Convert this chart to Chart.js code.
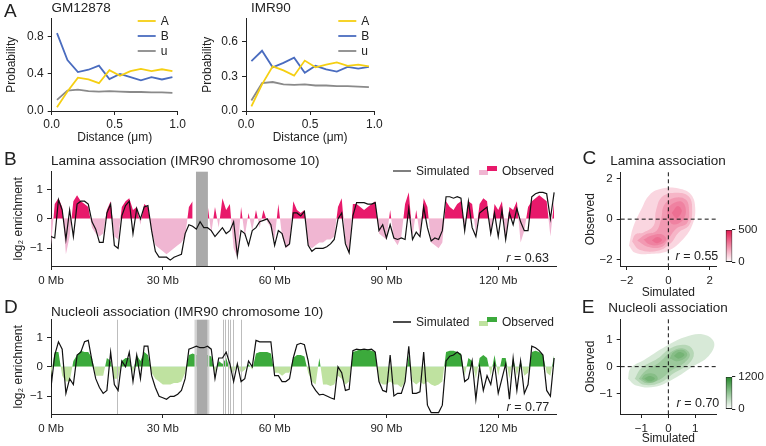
<!DOCTYPE html>
<html>
<head>
<meta charset="utf-8">
<script src="https://cdn.jsdelivr.net/npm/chart.js@4.4.1/dist/chart.umd.min.js"></script>
<style>
body { margin: 0; background: #fff; }
#fig { position: relative; width: 766px; height: 446px; overflow: hidden; font-family: "Liberation Sans", Arial, sans-serif; color: #222; }
#fig canvas { position: absolute; }
.t { position: absolute; line-height: 1; white-space: nowrap; }
.mid { transform: translateX(-50%); }
</style>
</head>
<body>
<div id="fig">
  <canvas id="gm" style="left:0;top:0" width="190" height="145"></canvas>
  <canvas id="imr" style="left:195px;top:0" width="190" height="145"></canvas>
  <canvas id="lamTrack" style="left:0;top:145px" width="566" height="150"></canvas>
  <canvas id="nucTrack" style="left:0;top:293px" width="566" height="150"></canvas>
  <canvas id="lamKde" style="left:575px;top:150px" width="150" height="150"></canvas>
  <canvas id="nucKde" style="left:575px;top:298px" width="150" height="148"></canvas>
  <canvas id="lamBar" style="left:718px;top:220px" width="48" height="52"></canvas>
  <canvas id="nucBar" style="left:718px;top:367px" width="48" height="52"></canvas>

  <div class="t" style="left:4px;top:0.5px;font-size:19px">A</div>
  <div class="t" style="left:51.5px;top:0.5px;font-size:13.5px">GM12878</div>
  <div class="t" style="left:251px;top:0.5px;font-size:13.5px">IMR90</div>
  <div class="t" style="left:4px;top:149.2px;font-size:19px">B</div>
  <div class="t" style="left:51px;top:153.7px;font-size:13.5px">Lamina association (IMR90 chromosome 10)</div>
  <div class="t" style="right:217px;top:252px;font-size:12.5px"><i>r</i> = 0.63</div>
  <div class="t" style="left:582.5px;top:148.3px;font-size:19px">C</div>
  <div class="t mid" style="left:668px;top:153.7px;font-size:13.5px">Lamina association</div>
  <div class="t" style="right:47.7px;top:250px;font-size:12.5px"><i>r</i> = 0.55</div>
  <div class="t" style="left:4px;top:297.3px;font-size:19px">D</div>
  <div class="t" style="left:51px;top:304.6px;font-size:13.5px">Nucleoli association (IMR90 chromosome 10)</div>
  <div class="t" style="right:216.7px;top:400.7px;font-size:12.5px"><i>r</i> = 0.77</div>
  <div class="t" style="left:581.7px;top:296.5px;font-size:19px">E</div>
  <div class="t mid" style="left:668px;top:301.2px;font-size:13.5px">Nucleoli association</div>
  <div class="t" style="right:46.7px;top:397.4px;font-size:12.5px"><i>r</i> = 0.70</div>
</div>
<script>
// ---- panel A: contact probability vs distance ----
const distanceUm = [0.042, 0.125, 0.208, 0.292, 0.375, 0.458, 0.542, 0.625, 0.708, 0.792, 0.875, 0.958];
const gmA = [0.04, 0.21, 0.36, 0.34, 0.30, 0.44, 0.38, 0.43, 0.455, 0.43, 0.45, 0.43];
const gmB = [0.84, 0.55, 0.42, 0.445, 0.49, 0.345, 0.40, 0.366, 0.33, 0.366, 0.34, 0.366];
const gmU = [0.12, 0.22, 0.23, 0.215, 0.21, 0.215, 0.21, 0.205, 0.205, 0.20, 0.20, 0.195];
const imrA = [0.04, 0.23, 0.385, 0.35, 0.305, 0.435, 0.377, 0.40, 0.42, 0.39, 0.40, 0.385];
const imrB = [0.43, 0.52, 0.377, 0.415, 0.46, 0.33, 0.39, 0.36, 0.34, 0.38, 0.365, 0.38];
const imrU = [0.09, 0.24, 0.25, 0.23, 0.226, 0.23, 0.22, 0.22, 0.215, 0.215, 0.21, 0.206];
const distTicks = [0, 0.5, 1];
const distTickLabels = ['0.0', '0.5', '1.0'];
const gmProbTicks = [0, 0.4, 0.8];
const gmProbTickLabels = ['0.0', '0.4', '0.8'];
const imrProbTicks = [0, 0.3, 0.6];
const imrProbTickLabels = ['0.0', '0.3', '0.6'];

// ---- panels B, D: chromosome 10 tracks, 1 Mb bins ----
const binMb = [0,1,2,3,4,5,6,7,8,9,10,11,12,13,14,15,16,17,18,19,20,21,22,23,24,25,26,27,28,29,
  30,31,32,33,34,35,36,37,38,39,40,41,42,43,44,45,46,47,48,49,50,51,52,53,54,55,56,57,58,59,
  60,61,62,63,64,65,66,67,68,69,70,71,72,73,74,75,76,77,78,79,80,81,82,83,84,85,86,87,88,89,
  90,91,92,93,94,95,96,97,98,99,100,101,102,103,104,105,106,107,108,109,110,111,112,113,114,115,116,117,118,119,
  120,121,122,123,124,125,126,127,128,129,130,131,132,133,134,135];
const laminaSim = [-0.6,-0.65,0.65,0.3,-0.7,0.3,-0.6,0.5,0.6,0.6,
  0.5,-0.1,-0.35,-0.8,-0.8,0.2,0.5,-0.9,-1.0,0.1,
  0.45,0.6,-0.5,0.35,0.0,0.4,0.45,-0.4,-1.1,-1.3,
  -1.3,-1.3,-1.4,-1.3,-1.25,-1.2,-0.5,-0.2,-0.25,-0.35,
  -0.1,-0.3,-0.3,-0.4,-0.6,-0.45,-0.3,-0.5,-0.4,-0.1,
  -1.25,-0.4,-0.5,-0.9,-0.4,-0.3,-0.1,-0.05,0.0,-0.2,
  -0.9,-0.4,-0.5,-0.95,-0.85,0.2,0.2,0.1,0.25,-0.9,
  -1.1,-1.0,-1.0,-1.0,-0.95,-0.85,-0.7,0.0,0.2,-0.85,
  -1.15,0.1,0.55,0.55,0.55,0.5,0.5,0.55,-0.4,-0.2,
  -0.65,-0.2,-0.65,-0.7,-0.65,-0.7,0.35,-0.7,-0.45,-0.6,
  0.4,-0.3,-0.75,-0.65,-0.7,-0.4,0.75,0.75,0.7,0.75,
  0.7,-0.4,0.6,-0.3,-0.6,0.2,0.3,0.4,-0.5,0.2,
  -0.6,0.3,-0.7,0.2,-0.2,0.35,-0.1,-0.4,-0.4,0.75,
  0.85,0.9,0.9,0.85,0.0,0.9];
const laminaObs = [-0.9,0.5,0.7,0.4,-1.2,-0.6,0.6,0.8,0.6,0.5,
  0.4,-0.3,-0.5,-0.6,-0.5,0.3,0.6,-0.6,-0.7,0.4,
  0.6,0.7,0.3,0.4,-0.2,0.5,0.4,-0.4,-0.9,-1.0,
  -1.1,-1.2,-1.1,-1.0,-0.9,-0.8,-0.6,0.4,0.6,null,
  null,null,0.5,-0.5,0.4,-0.3,0.7,0.3,0.5,-1.0,
  -1.3,0.4,-0.6,0.2,-0.4,0.3,-0.3,0.3,-0.1,-0.3,
  -0.7,0.5,-0.6,-1.0,-0.9,0.6,0.3,0.2,0.3,-0.9,
  -1.0,-0.9,-0.8,-0.8,-0.7,-0.7,-0.6,0.4,0.7,-0.8,
  -1.2,0.5,0.5,0.4,0.3,0.4,0.5,0.6,-0.5,-0.6,
  -0.7,0.3,-0.7,-0.9,-0.6,0.5,0.9,-0.6,0.3,-0.6,
  0.7,0.4,-0.8,-0.9,-1.0,-0.8,0.6,0.4,0.3,0.5,
  0.6,-0.3,0.6,0.5,-0.5,0.5,0.7,0.6,-0.6,0.5,
  0.3,0.6,-0.7,0.4,0.3,0.6,-0.8,-0.4,0.4,0.6,
  0.7,0.8,0.7,0.6,-0.6,0.6];
const nucleoliSim = [-0.7,0.4,0.85,0.6,-0.9,-0.4,-0.6,0.4,0.5,0.85,
  0.9,0.2,-0.4,-0.7,-0.9,-0.8,0.5,-0.6,-0.8,0.2,
  0.0,0.5,-0.5,0.4,-0.4,0.7,0.7,-0.3,-0.7,-1.0,
  -1.05,-1.1,-1.0,-1.0,-0.93,-0.8,-0.4,0.6,0.65,0.7,
  0.65,0.65,0.7,0.6,-0.4,0.3,0.3,0.5,0.1,-0.5,
  0.1,-0.5,-0.4,0.2,0.0,0.9,0.85,0.85,0.85,0.85,
  -0.3,-0.3,-0.5,-0.5,-0.4,0.3,0.75,0.8,0.75,0.2,
  -0.6,-0.8,-0.95,-0.93,-0.99,-1.05,-1.1,0.0,-0.2,-0.8,
  -0.76,0.55,0.6,0.58,0.6,0.58,0.6,0.5,-0.5,-0.8,
  -0.85,0.4,-0.99,-0.9,-0.9,-0.5,0.7,-0.9,-0.9,-0.85,
  0.5,-1.3,-1.55,-1.55,-1.55,-1.3,0.2,0.36,0.4,0.5,
  0.4,-0.5,-0.4,0.2,-1.1,0.0,-0.8,-0.3,-0.6,0.1,
  -0.9,-0.4,0.1,-1.1,0.3,-0.8,0.2,-0.9,-0.6,0.7,
  0.65,0.55,0.4,-0.8,-1.0,0.3];
const nucleoliObs = [-0.3,0.5,0.5,-0.3,-0.5,-0.5,0.2,0.4,0.55,0.5,
  0.5,0.3,-0.3,-0.3,-0.3,0.3,0.2,-0.4,-0.4,0.2,
  0.3,0.3,-0.2,0.4,0.2,0.5,0.4,-0.2,-0.4,-0.5,
  -0.6,-0.6,-0.6,-0.55,-0.55,-0.5,-0.2,0.4,0.45,0.4,
  0.4,0.4,0.4,0.35,-0.2,0.2,0.1,0.3,-0.1,-0.2,
  0.1,-0.2,-0.1,0.1,-0.1,0.45,0.5,0.5,0.5,0.45,
  -0.2,-0.2,-0.3,-0.2,-0.2,0.3,0.4,0.4,0.35,-0.2,
  -0.5,-0.6,0.3,-0.6,-0.6,-0.65,-0.6,-0.3,-0.4,-0.6,
  -0.5,0.5,0.55,0.6,0.6,0.6,0.55,0.5,-0.5,-0.6,
  -0.6,-0.5,-0.6,-0.6,-0.7,-0.5,0.4,-0.5,-0.6,-0.5,
  -0.6,-0.5,-0.6,-0.65,-0.6,-0.5,0.5,0.55,0.55,0.5,
  0.45,-0.3,0.3,0.2,-0.4,0.3,0.4,0.3,-0.3,0.4,
  -0.3,0.3,0.3,-0.4,0.3,-0.3,0.2,-0.3,-0.2,0.5,
  0.55,0.5,0.4,-0.2,-0.3,0.4];
const laminaGaps = [[38.9, 42.1]];
const nucleoliGaps = [[39.1, 42.0]];
const nucleoliSoftGaps = [[38.5, 39.1], [42.0, 42.5]];
const nucleoliGapLines = [17.8, 46.1, 46.8, 47.4, 48.1, 48.8, 51.0];
const chromTicks = [0, 30, 60, 90, 120];
const chromTickLabels = ['0 Mb', '30 Mb', '60 Mb', '90 Mb', '120 Mb'];
const enrichTicks = [-1, 0, 1];
const enrichTickLabels = ['\u22121', '0', '1'];

// ---- panels C, E: density contours (simulated vs observed) ----
const laminaLevels = [
  [[-1.9,-1.3],[-1.6,-1.65],[-0.8,-1.7],[0.0,-1.55],[0.7,-1.0],[1.15,-0.3],[1.3,0.5],[1.1,1.2],[0.5,1.5],[-0.3,1.5],[-0.9,1.2],[-1.3,0.5],[-1.7,-0.4]],
  [[-1.75,-1.1],[-1.4,-1.5],[-0.5,-1.55],[0.1,-1.2],[0.5,-0.65],[1.0,-0.3],[1.15,0.4],[1.0,1.1],[0.4,1.3],[-0.3,1.1],[-0.6,0.4],[-0.7,-0.3],[-1.2,-0.65],[-1.6,-0.75]],
  [[-1.5,-1.05],[-1.0,-1.35],[-0.3,-1.35],[0.05,-0.9],[0.4,-0.45],[0.9,-0.2],[1.0,0.4],[0.85,0.95],[0.3,1.05],[-0.2,0.7],[-0.35,0.0],[-0.6,-0.6],[-1.1,-0.75]],
  [[-1.2,-1.0],[-0.9,-1.25],[-0.4,-1.25],[-0.1,-1.0],[-0.3,-0.75],[-0.8,-0.8]],
  [[-0.05,0.1],[0.2,-0.25],[0.65,-0.1],[0.85,0.4],[0.65,0.85],[0.2,0.75],[-0.05,0.45]],
  [[-0.8,-1.05],[-0.55,-1.18],[-0.3,-1.02],[-0.55,-0.88]],
  [[0.15,0.3],[0.4,0.05],[0.65,0.4],[0.45,0.65]]
];
const nucleoliLevels = [
  [[-1.5,-0.45],[-1.2,-0.7],[-0.5,-0.75],[0.2,-0.45],[0.9,0.0],[1.5,0.4],[1.7,0.9],[1.3,1.2],[0.6,1.1],[-0.2,0.7],[-0.9,0.25],[-1.4,-0.05]],
  [[-1.25,-0.45],[-0.9,-0.68],[-0.3,-0.6],[0.2,-0.25],[0.75,0.1],[0.95,0.5],[0.7,0.8],[0.1,0.7],[-0.4,0.3],[-1.0,-0.05]],
  [[-1.1,-0.45],[-0.8,-0.62],[-0.35,-0.5],[0.1,-0.15],[0.6,0.15],[0.8,0.45],[0.55,0.68],[0.1,0.55],[-0.35,0.15],[-0.85,-0.15]],
  [[-1.0,-0.45],[-0.7,-0.6],[-0.4,-0.48],[-0.5,-0.28],[-0.85,-0.28]],
  [[0.05,0.3],[0.35,0.2],[0.7,0.42],[0.55,0.62],[0.2,0.55]],
  [[-0.9,-0.45],[-0.7,-0.55],[-0.5,-0.45],[-0.7,-0.35]],
  [[0.2,0.4],[0.4,0.3],[0.6,0.45],[0.4,0.55]]
];
const laminaKdeTicks = [-2, 0, 2];
const laminaKdeTickLabels = ['\u22122', '0', '2'];
const nucleoliKdeTicks = [-1, 0, 1];
const nucleoliKdeTickLabels = ['\u22121', '0', '1'];
const laminaCountMax = 500;
const nucleoliCountMax = 1200;

const FONT = "'Liberation Sans', Arial, sans-serif";
Chart.defaults.font.family = FONT;
Chart.defaults.font.size = 11.5;
Chart.defaults.color = '#222';
Chart.defaults.animation = false;
Chart.defaults.responsive = false;
Chart.defaults.events = [];
Chart.defaults.plugins.legend.display = false;
Chart.defaults.plugins.tooltip.enabled = false;

// small legend drawn inside the plot
Chart.register({
  id: 'key',
  afterDraw(chart, args, opts) {
    const items = opts.items || [];
    const a = chart.chartArea, ctx = chart.ctx;
    ctx.save();
    ctx.font = (opts.size || 12) + 'px ' + FONT;
    ctx.textBaseline = 'middle';
    items.forEach(it => {
      const x = a.right + it.dx, y = a.top + it.dy;
      if (it.kind === 'line') {
        ctx.strokeStyle = it.color;
        ctx.lineWidth = it.width || 1.8;
        ctx.beginPath(); ctx.moveTo(x, y); ctx.lineTo(x + 18, y); ctx.stroke();
      } else {
        ctx.fillStyle = it.colors[0]; ctx.fillRect(x, y - 1, 9, 5);
        ctx.fillStyle = it.colors[1]; ctx.fillRect(x + 8, y - 5, 10, 5);
      }
      ctx.fillStyle = '#222';
      ctx.fillText(it.label, x + 23, y + 0.5);
    });
    ctx.restore();
  }
});

// grey bands where the chromosome has no data, under the simulated line
Chart.register({
  id: 'gaps',
  beforeDatasetDraw(chart, args, opts) {
    if (args.index !== 0 || !opts.ranges) return;
    const ctx = chart.ctx, a = chart.chartArea, x = chart.scales.x;
    const band = (r, color) => {
      const x0 = x.getPixelForValue(r[0]), x1 = x.getPixelForValue(r[1]);
      ctx.fillStyle = color;
      ctx.fillRect(x0, a.top, x1 - x0, a.bottom - a.top);
    };
    ctx.save();
    (opts.soft || []).forEach(r => band(r, '#d4d4d4'));
    opts.ranges.forEach(r => band(r, '#aaaaaa'));
    ctx.strokeStyle = '#bdbdbd';
    ctx.lineWidth = 1;
    (opts.lines || []).forEach(v => {
      const px = Math.round(x.getPixelForValue(v)) + 0.5;
      ctx.beginPath(); ctx.moveTo(px, a.top); ctx.lineTo(px, a.bottom); ctx.stroke();
    });
    ctx.restore();
  }
});

// dashed zero lines on the density panels
Chart.register({
  id: 'zeroCross',
  afterDatasetsDraw(chart, args, opts) {
    if (!opts.on) return;
    const ctx = chart.ctx, a = chart.chartArea;
    const px = chart.scales.x.getPixelForValue(0), py = chart.scales.y.getPixelForValue(0);
    ctx.save();
    ctx.strokeStyle = '#111';
    ctx.lineWidth = 1;
    ctx.setLineDash([4, 3]);
    ctx.beginPath();
    ctx.moveTo(px, a.top); ctx.lineTo(px, a.bottom);
    ctx.moveTo(a.left, py); ctx.lineTo(a.right, py);
    ctx.stroke();
    ctx.restore();
  }
});

const spine = {display: true, color: '#222', width: 1};
const tickMarks = {display: true, drawOnChartArea: false, drawTicks: true, tickLength: 4, tickColor: '#222', tickWidth: 1};

function axis(min, max, values, labels, extra) {
  return Object.assign({
    type: 'linear', min: min, max: max,
    border: spine, grid: tickMarks,
    afterBuildTicks: s => { s.ticks = values.map(v => ({value: v})); },
    ticks: {autoSkip: false, maxRotation: 0, padding: 4, callback: (v, i) => labels[i]}
  }, extra);
}

function pairs(xs, ys) { return xs.map((x, i) => ({x: x, y: ys[i]})); }

const yellow = '#f5cf12', blue = '#4a6cbf', grey = '#8a8a8a';

function probChart(id, a, b, u, yMax, yTicks, yLabels, o) {
  const line = (data, color) => ({data: pairs(distanceUm, data), borderColor: color, borderWidth: 1.8, pointRadius: 0, tension: 0});
  return new Chart(document.getElementById(id), {
    type: 'line',
    data: {datasets: [line(a, yellow), line(b, blue), line(u, grey)]},
    options: {
      layout: {padding: {top: 18.3, right: o.right, left: 0, bottom: 0}},
      scales: {
        x: axis(0, 1, distTicks, distTickLabels, {
          ticks: {autoSkip: false, maxRotation: 0, padding: 2, font: {size: 12}, callback: (v, i) => distTickLabels[i]},
          title: {display: true, text: 'Distance (\u03bcm)', font: {size: 12}, padding: {top: 0, bottom: 0}},
          afterFit: s => { s.height = 34; }
        }),
        y: axis(0, yMax, yTicks, yLabels, {
          ticks: {autoSkip: false, padding: 4, font: {size: 12}, callback: (v, i) => yLabels[i]},
          title: {display: true, text: 'Probability', font: {size: 12}, padding: {top: o.titlePad, bottom: 0}},
          afterFit: s => { s.width = o.yWidth; }
        })
      },
      plugins: {
        key: {size: 12, items: [
          {label: 'A', kind: 'line', color: yellow, dx: o.keyDx, dy: 2.7},
          {label: 'B', kind: 'line', color: blue, dx: o.keyDx, dy: 17.7},
          {label: 'u', kind: 'line', color: grey, dx: o.keyDx, dy: 32.7}
        ]}
      }
    }
  });
}

probChart('gm', gmA, gmB, gmU, 1.0, gmProbTicks, gmProbTickLabels, {right: 12.3, yWidth: 51.7, titlePad: 4.5, keyDx: -40});
probChart('imr', imrA, imrB, imrU, 0.8, imrProbTicks, imrProbTickLabels, {right: 10.7, yWidth: 51, titlePad: 5.8, keyDx: -36});

function trackChart(id, sim, obs, dark, light, gapOpts, keyDy, keyLine) {
  return new Chart(document.getElementById(id), {
    type: 'line',
    data: {datasets: [
      {data: pairs(binMb, sim), borderColor: '#111', borderWidth: 1.2, pointRadius: 0, tension: 0},
      {data: pairs(binMb, obs), fill: {target: 'origin', above: dark, below: light},
       borderColor: 'rgba(0,0,0,0)', borderWidth: 0, pointRadius: 0, tension: 0}
    ]},
    options: {
      layout: {padding: {top: 26.7, right: 10, left: 0, bottom: 0}},
      scales: {
        x: axis(0, 135.5, chromTicks, chromTickLabels, {afterFit: s => { s.height = 29; }}),
        y: axis(-1.6, 1.6, enrichTicks, enrichTickLabels, {
          title: {display: true, text: 'log\u2082 enrichment', font: {size: 12}, padding: {top: 11.1, bottom: 0}},
          afterFit: s => { s.width = 51; }
        })
      },
      plugins: {
        gaps: gapOpts,
        key: {size: 12, items: [
          {label: 'Simulated', kind: 'line', color: keyLine, width: 1.5, dx: -163, dy: keyDy},
          {label: 'Observed', kind: 'pair', colors: [light, dark], dx: -77, dy: keyDy}
        ]}
      }
    }
  });
}

trackChart('lamTrack', laminaSim, laminaObs, '#e8196b', '#f0b6d2', {ranges: laminaGaps}, -0.7, '#555');
trackChart('nucTrack', nucleoliSim, nucleoliObs, '#3caa3c', '#bfe2a0',
  {ranges: nucleoliGaps, soft: nucleoliSoftGaps, lines: nucleoliGapLines}, 2.3, '#111');

function kdeChart(id, levels, fillColor, range, ticks, tickLabels, xHeight) {
  const datasets = levels.map(lv => ({
    data: lv.concat([lv[0]]).map(p => ({x: p[0], y: p[1]})),
    fill: 'shape', backgroundColor: fillColor,
    borderColor: 'rgba(0,0,0,0)', borderWidth: 0, pointRadius: 0, tension: 0.4
  }));
  return new Chart(document.getElementById(id), {
    type: 'line',
    data: {datasets: datasets},
    options: {
      layout: {padding: {top: range.top, right: 9, left: 0, bottom: 0}},
      scales: {
        x: axis(range.min, range.max, ticks, tickLabels, {
          title: {display: true, text: 'Simulated', font: {size: 12}, padding: {top: 0, bottom: 0}},
          afterFit: s => { s.height = xHeight; }
        }),
        y: axis(range.min, range.max, ticks, tickLabels, {
          title: {display: true, text: 'Observed', font: {size: 12}, padding: {top: 8.7, bottom: 0}},
          afterFit: s => { s.width = 45.7; }
        })
      },
      plugins: {zeroCross: {on: true}}
    }
  });
}

kdeChart('lamKde', laminaLevels, 'rgba(228,28,82,0.18)', {min: -2.3, max: 2.3, top: 22.3}, laminaKdeTicks, laminaKdeTickLabels, 34);
kdeChart('nucKde', nucleoliLevels, 'rgba(40,140,44,0.19)', {min: -1.77, max: 1.77, top: 21.3}, nucleoliKdeTicks, nucleoliKdeTickLabels, 32);

function colorBar(id, maxCount, topColor) {
  return new Chart(document.getElementById(id), {
    type: 'bar',
    data: {labels: [''], datasets: [{
      data: [[0, maxCount]],
      backgroundColor: c => {
        const area = c.chart.chartArea;
        if (!area) return topColor;
        const g = c.chart.ctx.createLinearGradient(0, area.bottom, 0, area.top);
        g.addColorStop(0, '#ffffff');
        g.addColorStop(1, topColor);
        return g;
      },
      borderColor: '#222', borderWidth: 1, borderSkipped: false,
      barPercentage: 1, categoryPercentage: 1
    }]},
    options: {
      layout: {padding: {left: 7.7, top: 6, bottom: 5.3, right: 0}},
      scales: {
        x: {display: false},
        y: {
          position: 'right', min: 0, max: maxCount,
          border: {display: false}, grid: Object.assign({}, tickMarks, {tickLength: 3}),
          afterBuildTicks: s => { s.ticks = [{value: 0}, {value: maxCount}]; },
          ticks: {padding: 3, font: {size: 11.5}, callback: v => String(v)},
          afterFit: s => { s.width = 33.7; }
        }
      }
    }
  });
}

colorBar('lamBar', laminaCountMax, '#e3174f');
colorBar('nucBar', nucleoliCountMax, '#25882a');
</script>
</body>
</html>
